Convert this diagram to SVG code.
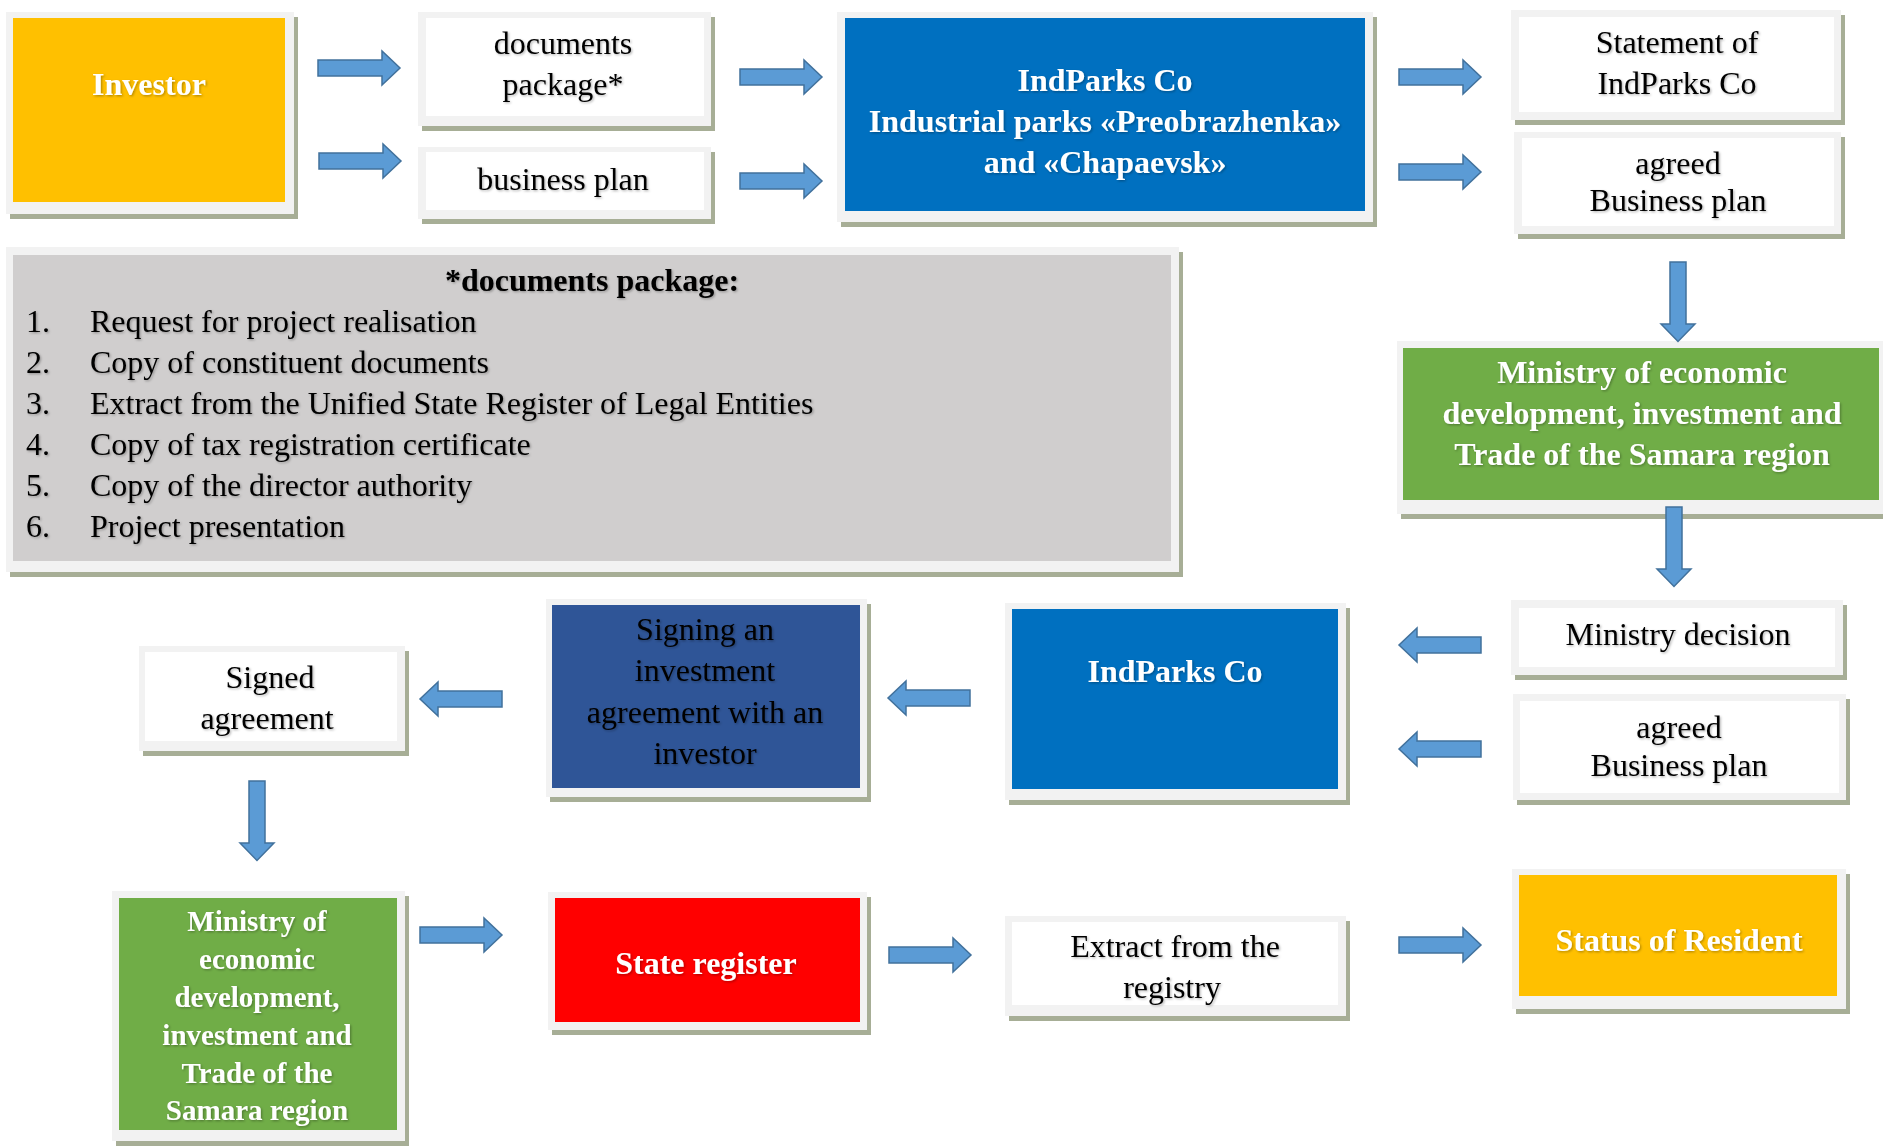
<svg xmlns="http://www.w3.org/2000/svg" xmlns:xlink="http://www.w3.org/1999/xlink" width="1883" height="1147" viewBox="0 0 1883 1147">
<style>
.sh{fill:#A7AE96}
.fr{fill:#F2F2F2}
.wh{fill:#FFFFFF}
.t{font-family:"Liberation Serif","Times New Roman",serif;font-size:32px;text-anchor:middle;fill:#000}
.b{font-weight:bold;fill:#FFFFFF}
.l{text-anchor:start}
.s29{font-size:29px}
.ar{fill:#5B9BD5;stroke:#41719C;stroke-width:1.5}
</style>
<defs>
<filter id="ts" x="-5%" y="-20%" width="110%" height="140%">
<feDropShadow dx="1.2" dy="1.2" stdDeviation="0.8" flood-color="#000" flood-opacity="0.3"/>
</filter>
<path id="arr" class="ar" d="M0,-8 L64,-8 L64,-17 L82,0 L64,17 L64,8 L0,8 Z"/>
</defs>
<rect width="1883" height="1147" fill="#FFFFFF"/>

<g id="investor">
<rect class="sh" x="10" y="17" width="288" height="202"/>
<rect class="fr" x="6" y="12" width="288" height="202"/>
<rect x="13" y="18" width="272" height="184" fill="#FFC000"/>
<text class="t b" x="149" y="95" filter="url(#ts)">Investor</text>
</g>

<g id="documents-package">
<rect class="sh" x="422" y="17" width="293" height="114"/>
<rect class="fr" x="418" y="12" width="293" height="114"/>
<rect class="wh" x="426" y="18" width="278" height="98"/>
<text class="t" x="563" y="54" filter="url(#ts)">documents</text>
<text class="t" x="563" y="95" filter="url(#ts)">package*</text>
</g>

<g id="business-plan">
<rect class="sh" x="422" y="152" width="293" height="72"/>
<rect class="fr" x="418" y="147" width="293" height="72"/>
<rect class="wh" x="426" y="152" width="278" height="58"/>
<text class="t" x="563" y="190" filter="url(#ts)">business plan</text>
</g>

<g id="indparks-top">
<rect class="sh" x="841" y="17" width="536" height="210"/>
<rect class="fr" x="837" y="12" width="536" height="210"/>
<rect x="845" y="18" width="520" height="193" fill="#0070C0"/>
<text class="t b" x="1105" y="91" filter="url(#ts)">IndParks Co</text>
<text class="t b" x="1105" y="132" filter="url(#ts)">Industrial parks «Preobrazhenka»</text>
<text class="t b" x="1105" y="173" filter="url(#ts)">and «Chapaevsk»</text>
</g>

<g id="statement">
<rect class="sh" x="1515" y="15" width="330" height="110"/>
<rect class="fr" x="1511" y="10" width="330" height="110"/>
<rect class="wh" x="1519" y="17" width="315" height="95"/>
<text class="t" x="1677" y="53" filter="url(#ts)">Statement of</text>
<text class="t" x="1677" y="94" filter="url(#ts)">IndParks Co</text>
</g>

<g id="agreed-bp-top">
<rect class="sh" x="1518" y="137" width="327" height="102"/>
<rect class="fr" x="1514" y="132" width="327" height="102"/>
<rect class="wh" x="1522" y="138" width="312" height="88"/>
<text class="t" x="1678" y="174" filter="url(#ts)">agreed</text>
<text class="t" x="1678" y="211" filter="url(#ts)">Business plan</text>
</g>

<g id="documents-list">
<rect class="sh" x="10" y="252" width="1173" height="325"/>
<rect class="fr" x="6" y="247" width="1173" height="325"/>
<rect x="13" y="255" width="1158" height="306" fill="#D0CECE"/>
<text class="t" x="592" y="291" font-weight="bold" filter="url(#ts)">*documents package:</text>
<g filter="url(#ts)">
<text class="t l" x="26" y="332">1.</text><text class="t l" x="90" y="332">Request for project realisation</text>
<text class="t l" x="26" y="373">2.</text><text class="t l" x="90" y="373">Copy of constituent documents</text>
<text class="t l" x="26" y="414">3.</text><text class="t l" x="90" y="414">Extract from the Unified State Register of Legal Entities</text>
<text class="t l" x="26" y="455">4.</text><text class="t l" x="90" y="455">Copy of tax registration certificate</text>
<text class="t l" x="26" y="496">5.</text><text class="t l" x="90" y="496">Copy of the director authority</text>
<text class="t l" x="26" y="537">6.</text><text class="t l" x="90" y="537">Project presentation</text>
</g>
</g>

<g id="ministry-right">
<rect class="sh" x="1401" y="346" width="486" height="173"/>
<rect class="fr" x="1397" y="341" width="486" height="173"/>
<rect x="1403" y="348" width="476" height="152" fill="#70AD47"/>
<text class="t b" x="1642" y="383" filter="url(#ts)">Ministry of economic</text>
<text class="t b" x="1642" y="424" filter="url(#ts)">development, investment and</text>
<text class="t b" x="1642" y="465" filter="url(#ts)">Trade of the Samara region</text>
</g>

<g id="ministry-decision">
<rect class="sh" x="1515" y="605" width="332" height="75"/>
<rect class="fr" x="1511" y="600" width="332" height="75"/>
<rect class="wh" x="1519" y="608" width="316" height="59"/>
<text class="t" x="1678" y="645" filter="url(#ts)">Ministry decision</text>
</g>

<g id="agreed-bp-bottom">
<rect class="sh" x="1517" y="699" width="333" height="106"/>
<rect class="fr" x="1513" y="694" width="333" height="106"/>
<rect class="wh" x="1520" y="701" width="319" height="92"/>
<text class="t" x="1679" y="738" filter="url(#ts)">agreed</text>
<text class="t" x="1679" y="776" filter="url(#ts)">Business plan</text>
</g>

<g id="indparks-bottom">
<rect class="sh" x="1009" y="608" width="341" height="197"/>
<rect class="fr" x="1005" y="603" width="341" height="197"/>
<rect x="1012" y="609" width="326" height="180" fill="#0070C0"/>
<text class="t b" x="1175" y="682" filter="url(#ts)">IndParks Co</text>
</g>

<g id="signing">
<rect class="sh" x="550" y="604" width="321" height="198"/>
<rect class="fr" x="546" y="599" width="321" height="198"/>
<rect x="552" y="605" width="308" height="183" fill="#2F5597"/>
<text class="t" x="705" y="640" filter="url(#ts)">Signing an</text>
<text class="t" x="705" y="681" filter="url(#ts)">investment</text>
<text class="t" x="705" y="723" filter="url(#ts)">agreement with an</text>
<text class="t" x="705" y="764" filter="url(#ts)">investor</text>
</g>

<g id="signed-agreement">
<rect class="sh" x="143" y="651" width="266" height="105"/>
<rect class="fr" x="139" y="646" width="266" height="105"/>
<rect class="wh" x="145" y="652" width="252" height="89"/>
<text class="t" x="270" y="688" filter="url(#ts)">Signed</text>
<text class="t" x="267" y="729" filter="url(#ts)">agreement</text>
</g>

<g id="ministry-left">
<rect class="sh" x="116" y="896" width="293" height="250"/>
<rect class="fr" x="112" y="891" width="293" height="250"/>
<rect x="119" y="898" width="278" height="232" fill="#70AD47"/>
<text class="t b s29" x="257" y="931" filter="url(#ts)">Ministry of</text>
<text class="t b s29" x="257" y="969" filter="url(#ts)">economic</text>
<text class="t b s29" x="257" y="1007" filter="url(#ts)">development,</text>
<text class="t b s29" x="257" y="1045" filter="url(#ts)">investment and</text>
<text class="t b s29" x="257" y="1083" filter="url(#ts)">Trade of the</text>
<text class="t b s29" x="257" y="1120" filter="url(#ts)">Samara region</text>
</g>

<g id="state-register">
<rect class="sh" x="552" y="897" width="319" height="138"/>
<rect class="fr" x="548" y="892" width="319" height="138"/>
<rect x="555" y="898" width="305" height="124" fill="#FF0000"/>
<text class="t b" x="706" y="974" filter="url(#ts)">State register</text>
</g>

<g id="extract">
<rect class="sh" x="1009" y="921" width="341" height="100"/>
<rect class="fr" x="1005" y="916" width="341" height="100"/>
<rect class="wh" x="1012" y="922" width="326" height="83"/>
<text class="t" x="1175" y="957" filter="url(#ts)">Extract from the</text>
<text class="t" x="1172" y="998" filter="url(#ts)">registry</text>
</g>

<g id="status-resident">
<rect class="sh" x="1516" y="874" width="334" height="140"/>
<rect class="fr" x="1512" y="869" width="334" height="140"/>
<rect x="1519" y="875" width="318" height="121" fill="#FFC000"/>
<text class="t b" x="1679" y="951" filter="url(#ts)">Status of Resident</text>
</g>

<g id="connectors">
<use xlink:href="#arr" transform="translate(318,68)"/>
<use xlink:href="#arr" transform="translate(319,161)"/>
<use xlink:href="#arr" transform="translate(740,77)"/>
<use xlink:href="#arr" transform="translate(740,181)"/>
<use xlink:href="#arr" transform="translate(1399,77)"/>
<use xlink:href="#arr" transform="translate(1399,172)"/>
<use xlink:href="#arr" transform="translate(1678,262) rotate(90) scale(0.97,1)"/>
<use xlink:href="#arr" transform="translate(1674,507) rotate(90) scale(0.97,1)"/>
<use xlink:href="#arr" transform="translate(1481,645) rotate(180)"/>
<use xlink:href="#arr" transform="translate(1481,749) rotate(180)"/>
<use xlink:href="#arr" transform="translate(970,698) rotate(180)"/>
<use xlink:href="#arr" transform="translate(502,699) rotate(180)"/>
<use xlink:href="#arr" transform="translate(257,781) rotate(90) scale(0.97,1)"/>
<use xlink:href="#arr" transform="translate(420,935)"/>
<use xlink:href="#arr" transform="translate(889,955)"/>
<use xlink:href="#arr" transform="translate(1399,945)"/>
</g>
</svg>
